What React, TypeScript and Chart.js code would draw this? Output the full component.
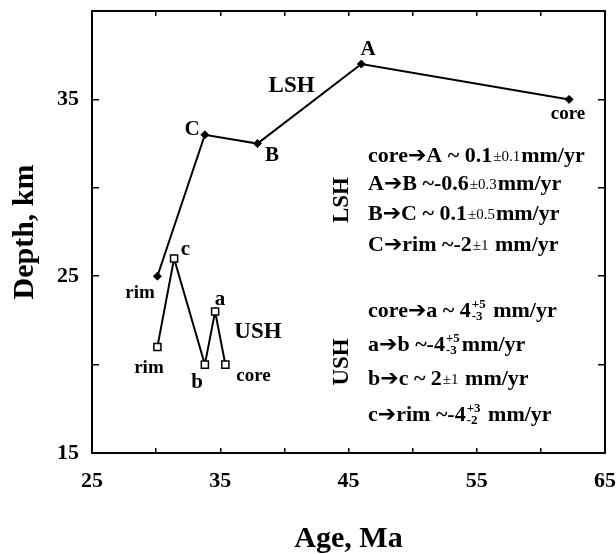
import React, { useEffect, useRef } from 'react';
import { Chart, registerables } from 'chart.js';

Chart.register(...registerables);

// ---- data ----
const lshAge = [30.1, 33.8, 37.9, 46.0, 62.2];
const lshDepth = [25.0, 33.0, 32.5, 37.0, 35.0];
const ushAge = [30.1, 31.4, 33.8, 34.6, 35.4];
const ushDepth = [21.0, 26.0, 20.0, 23.0, 20.0];

const xLabelTicks = [25, 35, 45, 55, 65];
const yLabelTicks = [15, 25, 35];

const pointLabelTexts = ['core', 'A', 'LSH', 'C', 'B', 'rim', 'c', 'a', 'USH', 'rim', 'b', 'core'];

const lshRateLines = [
  [['n', 'core➔A ~ 0.1'], ['s', '±0.1'], ['n', 'mm/yr']],
  [['n', 'A➔B ~-0.6'], ['s', '±0.3'], ['n', 'mm/yr']],
  [['n', 'B➔C ~ 0.1'], ['s', '±0.5'], ['n', 'mm/yr']],
  [['n', 'C➔rim ~-2'], ['s', '±1'], ['n', ' mm/yr']],
];
const ushRateLines = [
  [['n', 'core➔a ~ 4'], ['st', '+5', '-3'], ['n', ' mm/yr']],
  [['n', 'a➔b ~-4'], ['st', '+5', '-3'], ['n', 'mm/yr']],
  [['n', 'b➔c ~ 2'], ['s', '±1'], ['n', ' mm/yr']],
  [['n', 'c➔rim ~-4'], ['st', '+3', '-2'], ['n', ' mm/yr']],
];

// ---- layout (positions in axis units, sizes in px) ----
const SERIF = "'Liberation Serif', 'DejaVu Sans', 'Times New Roman', serif";
const pointLabelPos = [
  { age: 62.11, depth: 34.17, size: 19 },
  { age: 46.52, depth: 37.79, size: 21 },
  { age: 40.56, depth: 35.76, size: 23 },
  { age: 32.8, depth: 33.27, size: 21 },
  { age: 39.04, depth: 31.8, size: 21 },
  { age: 28.74, depth: 24.05, size: 19 },
  { age: 32.29, depth: 26.48, size: 21 },
  { age: 34.98, depth: 23.65, size: 21 },
  { age: 37.94, depth: 21.84, size: 23 },
  { age: 29.44, depth: 19.81, size: 19 },
  { age: 33.19, depth: 18.96, size: 21 },
  { age: 37.59, depth: 19.36, size: 19 },
];
const blockAge = 46.52;
const lshLineDepths = [31.86, 30.27, 28.57, 26.82];
const ushLineDepths = [23.09, 21.17, 19.24, 17.21];
const verticalLabels = [
  { text: 'LSH', age: 44.49, depth: 29.31 },
  { text: 'USH', age: 44.49, depth: 20.15 },
];
const RATE_SIZE = 22;

function drawRich(ctx: CanvasRenderingContext2D, segs: any[], x: number, yc: number, size: number) {
  let cx = x;
  const base = yc + size * 0.33;
  ctx.textAlign = 'left';
  ctx.textBaseline = 'alphabetic';
  for (const s of segs) {
    if (s[0] === 'n') {
      ctx.font = `bold ${size}px ${SERIF}`;
      ctx.fillText(s[1], cx, base);
      cx += ctx.measureText(s[1]).width;
    } else if (s[0] === 's') {
      const sz = Math.round(size * 0.66);
      ctx.font = `${sz}px ${SERIF}`;
      ctx.fillText(s[1], cx + 1, base - 1);
      cx += ctx.measureText(s[1]).width + 2;
    } else {
      const sz = Math.round(size * 0.6);
      ctx.font = `bold ${sz}px ${SERIF}`;
      ctx.fillText(s[1], cx + 1, base - size * 0.42);
      ctx.fillText(s[2], cx + 1, base + size * 0.12);
      cx += Math.max(ctx.measureText(s[1]).width, ctx.measureText(s[2]).width) + 3;
    }
  }
}

const annotPlugin = {
  id: 'annots',
  afterDatasetsDraw(chart: any) {
    const { ctx } = chart;
    const xs = chart.scales.x;
    const ys = chart.scales.y;
    ctx.save();
    ctx.fillStyle = '#000';
    ctx.textAlign = 'center';
    ctx.textBaseline = 'middle';
    pointLabelTexts.forEach((t, i) => {
      const p = pointLabelPos[i];
      ctx.font = `bold ${p.size}px ${SERIF}`;
      ctx.fillText(t, xs.getPixelForValue(p.age), ys.getPixelForValue(p.depth));
    });
    verticalLabels.forEach((v) => {
      ctx.save();
      ctx.translate(xs.getPixelForValue(v.age), ys.getPixelForValue(v.depth));
      ctx.rotate(-Math.PI / 2);
      ctx.font = `bold 23px ${SERIF}`;
      ctx.textAlign = 'center';
      ctx.textBaseline = 'middle';
      ctx.fillText(v.text, 0, 0);
      ctx.restore();
    });
    const bx = xs.getPixelForValue(blockAge);
    lshRateLines.forEach((segs, i) => drawRich(ctx, segs, bx, ys.getPixelForValue(lshLineDepths[i]), RATE_SIZE));
    ushRateLines.forEach((segs, i) => drawRich(ctx, segs, bx, ys.getPixelForValue(ushLineDepths[i]), RATE_SIZE));
    ctx.restore();
  },
};

const zeroPad = (s: any) => {
  s.paddingTop = 0;
  s.paddingBottom = 0;
  s.paddingLeft = 0;
  s.paddingRight = 0;
};

export default function App() {
  const ref = useRef<HTMLCanvasElement | null>(null);
  useEffect(() => {
    if (!ref.current) return;
    const tickFont = { family: SERIF, size: 22, weight: 'bold' as const };
    const titleFont = { family: SERIF, size: 30, weight: 'bold' as const, lineHeight: 1 };
    const frameScale = (pos: string, tl: number) => ({
      type: 'linear',
      position: pos,
      min: pos === 'top' ? 25 : 15,
      max: pos === 'top' ? 65 : 40,
      ticks: { display: false, stepSize: 5, autoSkip: false },
      grid: { drawOnChartArea: false, drawTicks: true, tickLength: tl, color: '#000', lineWidth: 1.5 },
      border: { display: true, color: '#000', width: 2 },
      afterFit: (s: any) => {
        if (pos === 'top') s.height = 0;
        else s.width = 0;
        zeroPad(s);
      },
    });
    const chart = new Chart(ref.current, {
      type: 'scatter',
      data: {
        datasets: [
          {
            label: 'LSH',
            data: lshAge.map((a, i) => ({ x: a, y: lshDepth[i] })),
            showLine: true,
            borderColor: '#000',
            borderWidth: 2,
            backgroundColor: '#000',
            pointStyle: 'rectRot',
            pointRadius: 4,
            pointBorderWidth: 1,
            pointBackgroundColor: '#000',
            pointBorderColor: '#000',
          },
          {
            label: 'USH',
            data: ushAge.map((a, i) => ({ x: a, y: ushDepth[i] })),
            showLine: true,
            borderColor: '#000',
            borderWidth: 2,
            pointStyle: 'rect',
            pointRadius: 5,
            pointBorderWidth: 1.5,
            pointBackgroundColor: '#fff',
            pointBorderColor: '#000',
          },
          {
            label: 'USH centre',
            data: ushAge.map((a, i) => ({ x: a, y: ushDepth[i] })),
            showLine: false,
            pointStyle: 'rect',
            pointRadius: 1.2,
            pointBorderWidth: 0,
            pointBackgroundColor: '#000',
            pointBorderColor: '#000',
          },
        ],
      },
      options: {
        animation: false,
        responsive: false,
        layout: { padding: { left: 0, top: 11, right: 11, bottom: 0 } },
        plugins: { legend: { display: false }, tooltip: { enabled: false } },
        scales: {
          x: {
            type: 'linear',
            position: 'bottom',
            min: 25,
            max: 65,
            ticks: {
              stepSize: 5,
              autoSkip: false,
              maxRotation: 0,
              padding: 20,
              color: '#000',
              font: tickFont,
              callback: (v: any) => (xLabelTicks.includes(Number(v)) ? String(v) : ''),
            },
            grid: { drawOnChartArea: false, drawTicks: true, tickLength: -5, color: '#000', lineWidth: 1.5 },
            border: { display: true, color: '#000', width: 2 },
            title: { display: true, text: 'Age, Ma', color: '#000', font: titleFont, padding: { top: 0, bottom: 0 } },
            afterFit: (s: any) => {
              s.height = 101;
              zeroPad(s);
            },
          },
          y: {
            type: 'linear',
            position: 'left',
            min: 15,
            max: 40,
            ticks: {
              stepSize: 5,
              autoSkip: false,
              padding: 20,
              color: '#000',
              font: tickFont,
              callback: (v: any) => (yLabelTicks.includes(Number(v)) ? String(v) : ''),
            },
            grid: { drawOnChartArea: false, drawTicks: true, tickLength: -7, color: '#000', lineWidth: 1.5 },
            border: { display: true, color: '#000', width: 2 },
            title: { display: true, text: 'Depth, km', color: '#000', font: titleFont, padding: { top: 10, bottom: 0 } },
            afterFit: (s: any) => {
              s.width = 92;
              zeroPad(s);
            },
          },
          x2: frameScale('top', -5) as any,
          y2: frameScale('right', -7) as any,
        },
      } as any,
      plugins: [annotPlugin],
    });
    return () => chart.destroy();
  }, []);
  return (
    <div style={{ position: 'absolute', left: 0, top: 0, width: 616, height: 554 }}>
      <canvas ref={ref} width={616} height={554} style={{ display: 'block' }} />
    </div>
  );
}
